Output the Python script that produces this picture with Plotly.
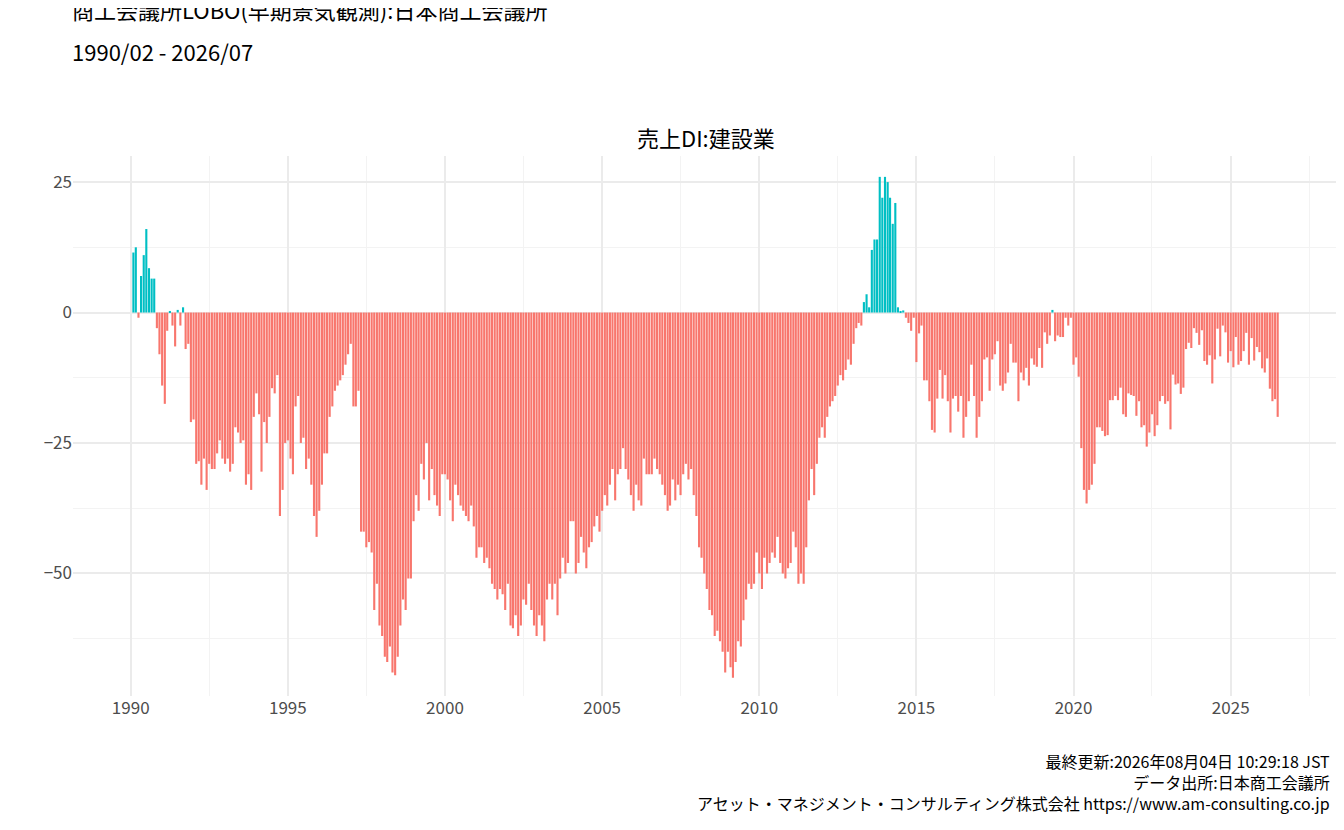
import pandas as pd
import plotly.graph_objects as go

# 売上DI:建設業, monthly, 1990/02 - 2026/07
di_1990 = [11.5, 12.5, -1, 7, 11, 16, 8.5, 6.5, 6.5, -3, -8]
di_1991 = [-14, -17.5, -3.5, 0.3, -2.5, -6.5, 0.5, -2.5, 1, -7, -6, -21]
di_1992 = [-20.5, -29, -28.5, -33, -28, -34, -29, -30, -30, -27, -24.5, -28]
di_1993 = [-29, -28, -30.5, -29, -22, -23, -25, -24.5, -33, -31, -34, -20]
di_1994 = [-15.5, -19.5, -30.5, -21, -25, -20, -14.5, -15.5, -12, -39, -34, -25]
di_1995 = [-24.5, -28, -31, -18, -16, -25, -24, -30, -28, -33, -39, -43]
di_1996 = [-38, -33, -27, -27, -20, -18, -15, -14, -13, -12, -10, -8]
di_1997 = [-6, -18, -18, -15, -42, -42, -45, -44, -46, -57, -52, -60]
di_1998 = [-62, -66, -67, -64, -69, -69.5, -66, -60, -55, -57, -51, -51]
di_1999 = [-40, -35, -38, -29, -32, -25, -36, -30, -35, -37, -39, -31]
di_2000 = [-31, -32, -36, -40, -33, -35, -37, -38, -39, -40, -37, -41]
di_2001 = [-47, -45, -45, -48, -47, -49, -52, -53, -55, -53, -54, -57]
di_2002 = [-52, -60, -60.5, -58, -62, -60, -55, -56, -52, -57, -60, -62]
di_2003 = [-58, -60, -63, -55, -52, -55, -52, -58, -51, -47, -50, -48]
di_2004 = [-40, -40, -50, -48, -43, -46, -49, -45, -44, -41, -39, -42]
di_2005 = [-38, -35, -37, -33, -30, -36, -31, -30, -26, -30, -32, -35]
di_2006 = [-38, -33, -36, -37, -28, -31, -31, -31, -28, -30, -31, -33]
di_2007 = [-35, -38, -37, -32, -36, -33, -35, -31, -29, -32, -30, -35]
di_2008 = [-39, -45, -47, -50, -53, -57, -58, -62, -61, -63, -65, -69]
di_2009 = [-65, -68, -70, -67, -63, -64, -59, -55, -52, -53, -52, -46]
di_2010 = [-50, -53, -47, -50, -48, -46, -47, -43, -48, -50, -51, -49]
di_2011 = [-48, -42, -45, -52, -50, -52, -45, -36, -30, -35, -29, -24]
di_2012 = [-22, -24, -20, -18, -17, -16, -14, -12, -13, -11, -9, -10]
di_2013 = [-6, -3, -2, -2.5, 2, 3.5, 1, 12, 14, 14, 26, 22]
di_2014 = [26, 25, 22, 17, 21, 1, 0.3, 0.4, -1, -2, -3.5, -1]
di_2015 = [-9.5, -4, -2.5, -13, -13, -17, -22.5, -23, -16.5, -11, -16.5, -12]
di_2016 = [-17, -23, -16.5, -16, -19, -16, -24, -20, -17, -10]
di_2016_2026 = [
    -16, -24, -20, -17, -9, -8.6, -15, -9, -8, -5.5,
    -14, -15, -13.6, -11.5, -6, -9.6, -9.6, -17, -11.5, -13,
    -10.6, -14, -8.8, -10, -10.4, -6.8, -10.6, -3.8, -6, -4.4,
    0.5, -5.5, -4.4, -4.7, -4.7, -1, -2.5, -1, -10, -8.6,
    -12.3, -26, -34, -36.6, -34, -33, -29, -22, -22, -22.7,
    -23.7, -23.5, -16.8, -16.8, -16, -16.8, -14.4, -19.5, -20, -15.5,
    -15.8, -16, -19.8, -17, -22, -21.6, -25.7, -23, -19.5, -23.7,
    -21.6, -17, -16, -17.5, -17, -22.4, -11.9, -13.8, -13.6, -15.6,
    -14.4, -7, -5.8, -6.8, -3, -3.9, -6.2, -3.4, -9.3, -10,
    -8.2, -13.6, -9, -3.1, -8.4, -2.5, -3.8, -9.6, -7.4, -10.5,
    -4.7, -10, -9.3, -7.4, -3.9, -10, -4.9, -9.2, -6.6, -7.6,
    -10.7, -11.5, -8.8, -14.6, -17, -16.6, -20,
]

values = (di_1990 + di_1991 + di_1992 + di_1993 + di_1994 + di_1995 + di_1996
          + di_1997 + di_1998 + di_1999 + di_2000 + di_2001 + di_2002 + di_2003
          + di_2004 + di_2005 + di_2006 + di_2007 + di_2008 + di_2009 + di_2010
          + di_2011 + di_2012 + di_2013 + di_2014 + di_2015 + di_2016
          + di_2016_2026)
dates = pd.date_range(end="2026-07-01", periods=len(values), freq="MS")

colors = ["#00BFC4" if v > 0 else "#F8766D" for v in values]

font = "Noto Sans CJK JP"
grid = "#EBEBEB"

fig = go.Figure(go.Bar(x=dates, y=values, marker_color=colors,
                       marker_line_width=0))

fig.update_layout(
    width=1344, height=830,
    paper_bgcolor="white", plot_bgcolor="white",
    font=dict(family=font, color="#000000"),
    margin=dict(l=65, r=14, t=148, b=142),
    bargap=0.12, showlegend=False,
    annotations=[
        dict(text="商工会議所LOBO(早期景気観測):日本商工会議所", xref="paper",
             yref="paper", x=-0.002, y=1.272, xanchor="left", yanchor="middle",
             showarrow=False, font=dict(size=22)),
        dict(text="1990/02 - 2026/07", xref="paper", yref="paper", x=-0.002,
             y=1.195, xanchor="left", yanchor="middle", showarrow=False,
             font=dict(size=22)),
        dict(text="売上DI:建設業", xref="paper", yref="paper", x=0.5, y=1.035,
             xanchor="center", yanchor="middle", showarrow=False,
             font=dict(size=22)),
        dict(text="最終更新:2026年08月04日 10:29:18 JST<br>データ出所:日本商工会議所<br>"
                  "アセット・マネジメント・コンサルティング株式会社 https://www.am-consulting.co.jp",
             xref="paper", yref="paper", x=0.995, y=-0.095, xanchor="right",
             yanchor="top", align="right", showarrow=False,
             font=dict(size=16)),
    ],
)
fig.update_xaxes(
    type="date", range=["1988-03-01", "2028-06-01"],
    tick0="1990-01-01", dtick="M60", tickformat="%Y",
    showgrid=True, gridcolor=grid, gridwidth=1.5, zeroline=False,
    tickfont=dict(size=17, color="#4D4D4D"), ticks="",
    minor=dict(dtick="M30", tick0="1987-07-01", showgrid=True,
               gridcolor="#F3F3F3", gridwidth=1),
)
fig.update_yaxes(
    range=[-73.5, 30], tickvals=[25, 0, -25, -50],
    showgrid=True, gridcolor=grid, gridwidth=1.5, zeroline=False,
    tickfont=dict(size=17, color="#4D4D4D"), ticks="",
    minor=dict(tickvals=[12.5, -12.5, -37.5, -62.5], showgrid=True,
               gridcolor="#F3F3F3", gridwidth=1),
)

fig.write_html("out.html")
